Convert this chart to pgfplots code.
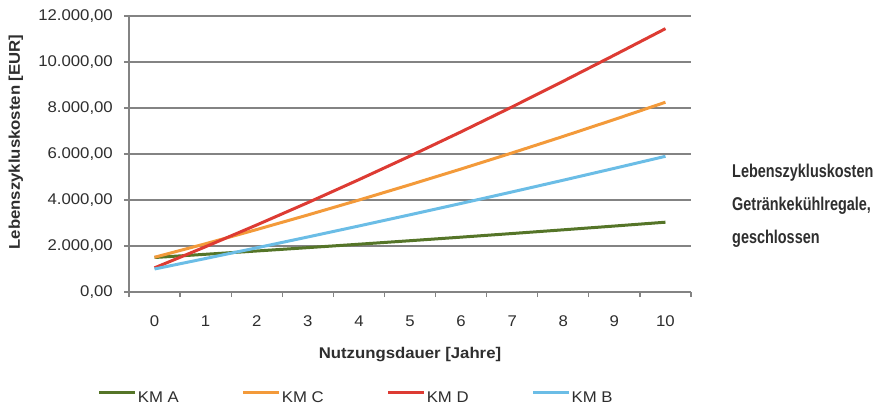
\documentclass[border=0pt]{standalone}
\usepackage{pgfplots}
\pgfplotsset{compat=1.18}
\usepackage{fontspec}
\setmainfont{Liberation Sans}[FakeStretch=1.08]
\newfontfamily\condfont{Liberation Sans}[FakeStretch=0.78]
\definecolor{kmA}{HTML}{557528}
\definecolor{kmC}{HTML}{F39A3A}
\definecolor{kmD}{HTML}{DD3B33}
\definecolor{kmB}{HTML}{6BBDE6}
\definecolor{txt}{HTML}{2E2E2E}
\definecolor{gridc}{HTML}{838383}
\begin{document}
\begin{tikzpicture}[x=1bp,y=1bp]
\path[use as bounding box] (0,0) rectangle (893,407);
\begin{axis}[
  at={(129bp,115bp)}, anchor=south west, scale only axis,
  width=562bp, height=276bp,
  xmin=-0.5, xmax=10.5, ymin=0, ymax=12000,
  axis lines*=left,
  axis line style={gridc, line width=1.3bp},
  xtick={-0.5,0.5,...,10.5}, xticklabels={},
  extra x ticks={0,1,...,10},
  extra x tick style={major tick length=0pt, grid=none},
  ytick={0,2000,...,12000},
  scaled y ticks=false,
  tick align=outside, major tick length=5bp,
  tick style={gridc, line width=1.3bp},
  ymajorgrids, grid style={gridc, line width=1.3bp},
  /pgf/number format/assume math mode=true,
  y tick label style={/pgf/number format/fixed, /pgf/number format/fixed zerofill, /pgf/number format/precision=2, /pgf/number format/use comma, /pgf/number format/1000 sep={.}},
  every tick label/.append style={font=\fontsize{15.5bp}{18bp}\selectfont, text=txt},
  yticklabel style={anchor=east, inner sep=0pt, xshift=-11bp},
  xticklabel style={anchor=center, inner sep=0pt, yshift=-29bp},
  xlabel={\bfseries Nutzungsdauer [Jahre]},
  ylabel={\bfseries Lebenszykluskosten [EUR]},
  label style={font=\fontsize{15.5bp}{18bp}\selectfont, text=txt},
  xlabel style={at={(axis description cs:0.5,-0.228)}, anchor=center},
  ylabel style={at={(axis description cs:-0.2011,0.5435)}, anchor=center},
  legend columns=4,
  legend style={at={(axis description cs:-0.0552,-0.377)}, anchor=west, draw=none, inner sep=0pt, outer sep=0pt,
    font=\fontsize{15.5bp}{18bp}\selectfont, text=txt,
    nodes={inner sep=1bp},
    /tikz/every even column/.append style={column sep=62bp}},
  legend image code/.code={\path[draw=none] (0bp,0bp) -- (0bp,11bp); \draw[#1, line width=3bp] (0bp,5.5bp) -- (36bp,5.5bp);},
  every axis plot/.append style={line width=3bp},
]
\addplot[kmA] coordinates {(0,1500) (1,1640) (2,1783) (3,1929) (4,2078) (5,2230) (6,2385) (7,2543) (8,2704) (9,2868) (10,3035)};
\addlegendentry{KM A}
\addplot[kmC] coordinates {(0,1510) (1,2099) (2,2716) (3,3349) (4,3998) (5,4665) (6,5348) (7,6049) (8,6766) (9,7500) (10,8250)};
\addlegendentry{KM C}
\addplot[kmD] coordinates {(0,1050) (1,1970) (2,2915) (3,3885) (4,4885) (5,5910) (6,6965) (7,8050) (8,9165) (9,10300) (10,11450)};
\addlegendentry{KM D}
\addplot[kmB] coordinates {(0,1000) (1,1457) (2,1921) (3,2392) (4,2871) (5,3358) (6,3851) (7,4352) (8,4861) (9,5377) (10,5900)};
\addlegendentry{KM B}
\end{axis}
\begin{scope}[every node/.style={anchor=base west, inner sep=0pt, text=txt, font=\condfont\bfseries\fontsize{18.5bp}{20bp}\selectfont}]
\node at (732,230) {Lebenszykluskosten};
\node at (732,197) {Getränkekühlregale,};
\node at (732,164) {geschlossen};
\end{scope}
\end{tikzpicture}
\end{document}
